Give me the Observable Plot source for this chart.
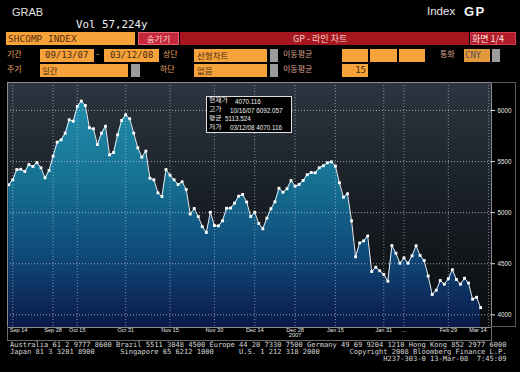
<!DOCTYPE html>
<html><head><meta charset="utf-8">
<script src="https://cdn.jsdelivr.net/npm/d3@7"></script>
<script src="https://cdn.jsdelivr.net/npm/@observablehq/plot@0.6"></script>
<style>
body{margin:0;background:#000;}
#wrap{position:relative;width:520px;height:372px;background:#000;overflow:hidden;font-family:"Liberation Sans",Arial,sans-serif;}
#wrap svg{position:absolute;left:0;top:0;}
.a{position:absolute;white-space:pre;line-height:1;z-index:2;}
.kr{font-family:"Noto Sans CJK KR",sans-serif;}
.box{position:absolute;box-sizing:border-box;height:13px;display:flex;align-items:center;white-space:pre;z-index:2;line-height:1;}
.or{background:#f6a33c;color:#4a2a0e;font-family:"DejaVu Sans Mono",monospace;font-size:9px;}
.gr{background:#9c9c9c;}
.lab{color:#eaa55e;font-size:8px;}
.lab2{color:#dca08e;font-size:8px;}
.ib{position:absolute;white-space:pre;line-height:1;}
.ik{font-family:"Noto Sans CJK KR",sans-serif;font-size:6.1px;color:#f4f4f4;transform:scaleX(1.12);transform-origin:0 0;}
.iv{font-size:6.3px;color:#f0f0f0;}
</style></head>
<body>
<div id="wrap">
  <div class="a" style="left:12px;top:7px;font-family:'Liberation Sans Narrow','Liberation Sans',Arial,sans-serif;font-size:11px;color:#e0e0e0;">GRAB</div>
  <div class="a" style="left:76px;top:20px;font-family:'DejaVu Sans Mono',monospace;font-size:10.8px;color:#f2f2f2;">Vol 57,224y</div>
  <div class="a" style="left:427px;top:6px;font-size:11.5px;color:#e8e8e8;">Index</div>
  <div class="a" style="left:464px;top:5px;font-size:13px;font-weight:bold;letter-spacing:1.5px;color:#f4f4f4;">GP</div>

  <div class="box or" style="left:6px;top:32px;width:129px;padding-left:2px;font-size:9.5px;color:#5a2c08;">SHCOMP INDEX</div>
  <div class="box kr" style="left:138px;top:32px;width:41px;background:#c4283a;border:1px solid #e06070;color:#ffd6d6;font-size:8.5px;justify-content:center;">숨기기</div>
  <div class="box" style="left:180px;top:32px;width:289px;background:#a6161f;"></div>
  <div class="a kr" style="left:293px;top:34px;font-size:9px;color:#f6cccc;">GP - 라인 차트</div>
  <div class="box kr" style="left:470px;top:32px;width:46px;background:#b01c28;border:1px solid #d04050;color:#ffe4e4;font-size:9px;padding-left:1px;">화면 1/4</div>

  <div class="a kr lab" style="left:7px;top:50px;">기간</div>
  <div class="box or" style="left:40px;top:49px;width:54px;padding-left:5px;">09/13/07</div>
  <div class="a" style="left:96px;top:50px;font-size:9px;color:#eaa55e;">-</div>
  <div class="box or" style="left:104px;top:49px;width:55px;padding-left:6px;">03/12/08</div>
  <div class="a kr lab" style="left:163px;top:50px;">상단</div>
  <div class="box or kr" style="left:194px;top:49px;width:73px;padding-left:3px;font-family:'Noto Sans CJK KR',sans-serif;font-size:8.5px;">선형차트</div>
  <div class="box gr" style="left:270px;top:49px;width:8px;"></div>
  <div class="a kr lab2" style="left:283px;top:50px;">이동평균</div>
  <div class="box or" style="left:342px;top:49px;width:26px;"></div>
  <div class="box or" style="left:370px;top:49px;width:27px;"></div>
  <div class="box or" style="left:399px;top:49px;width:26px;"></div>
  <div class="a kr lab2" style="left:440px;top:50px;">통화</div>
  <div class="box or" style="left:464px;top:49px;width:26px;padding-left:1px;background:#e39a3e;color:#5c5248;">CNY</div>
  <div class="box gr" style="left:492px;top:49px;width:8px;"></div>

  <div class="a kr lab" style="left:7px;top:65px;">주기</div>
  <div class="box or kr" style="left:40px;top:64px;width:88px;padding-left:2px;font-family:'Noto Sans CJK KR',sans-serif;font-size:8.5px;">일간</div>
  <div class="box gr" style="left:131px;top:64px;width:9px;"></div>
  <div class="a kr lab" style="left:160px;top:65px;">하단</div>
  <div class="box or kr" style="left:194px;top:64px;width:73px;padding-left:3px;font-family:'Noto Sans CJK KR',sans-serif;font-size:8.5px;">없음</div>
  <div class="box gr" style="left:270px;top:64px;width:8px;"></div>
  <div class="a kr lab2" style="left:283px;top:65px;">이동평균</div>
  <div class="box or" style="left:342px;top:64px;width:26px;justify-content:flex-end;padding-right:2px;">15</div>

  <div style="position:absolute;left:206px;top:96px;width:86px;height:37px;box-sizing:border-box;border:1px solid #e0e0e0;background:#000;z-index:3;">
    <div class="ib ik" style="left:1.5px;top:0px;">현재가</div>
    <div class="ib iv" style="left:28px;top:1.5px;">4070.116</div>
    <div class="ib ik" style="left:1.5px;top:9px;">고가</div>
    <div class="ib iv" style="left:23px;top:10.5px;">10/16/07 6092.057</div>
    <div class="ib ik" style="left:1.5px;top:18px;">평균</div>
    <div class="ib iv" style="left:18px;top:19.2px;">5113.524</div>
    <div class="ib ik" style="left:1.5px;top:26.6px;">저가</div>
    <div class="ib iv" style="left:23px;top:27.6px;">03/12/08 4070.116</div>
  </div>

  <div style="position:absolute;left:7px;top:326px;width:485px;height:15px;box-sizing:border-box;border:1px solid #6a6a6a;border-top:none;z-index:1;"></div>
  <div style="position:absolute;left:491px;top:82px;width:25px;height:245px;box-sizing:border-box;border:1px solid #5a5a5a;border-left:none;z-index:1;"></div>

  <div class="a" style="left:10px;top:340.8px;font-family:'DejaVu Sans Mono',monospace;font-size:7.05px;line-height:7.1px;color:#d8d8d8;">Australia 61 2 9777 8600 Brazil 5511 3048 4500 Europe 44 20 7330 7500 Germany 49 69 9204 1210 Hong Kong 852 2977 6000
Japan 81 3 3201 8900      Singapore 65 6212 1000      U.S. 1 212 318 2000       Copyright 2008 Bloomberg Finance L.P.
                                                                                        H237-303-0 13-Mar-08  7:45:09</div>
</div>
<script>
const values = [5273,5322,5422,5425,5403,5471,5452,5491,5439,5341,
5413,5553,5690,5713,5778,5909,5895,6039,6092,6049,
5831,5821,5667,5778,5846,5566,5589,5762,5902,5958,
5919,5778,5635,5543,5602,5337,5322,5194,5158,5422,
5367,5322,5276,5302,5227,4987,5041,4962,4863,4806,
5004,4874,4871,4920,5043,5045,5093,5161,5178,5104,
4962,5004,4894,4842,4946,5038,5106,5239,5200,5234,
5315,5259,5276,5315,5371,5393,5390,5439,5459,5488,
5498,5455,5292,5151,5185,4920,4568,4703,4724,4772,
4424,4466,4431,4395,4329,4678,4603,4505,4558,4505,
4578,4676,4581,4532,4380,4199,4241,4336,4300,4353,
4441,4346,4300,4358,4311,4153,4172,4070];
const xTickIndex = [1,11,17,29,40,51,61,71,81,93,98,109,119];
const xTickLabels = ["Sep 14","Sep 28","Oct 15","Oct 31","Nov 15","Nov 30","Dec 14","Dec 28","Jan 15","Jan 31","...","Feb 29","Mar 14"];
const yearIndex = [71];
const yearLabels = ["2007"];
const yTicks = [4000,4500,5000,5500,6000];
const xDomain = [-0.3, 119.7];
const yDomain = [3876, 6274];

const data = values.map((v,i)=>({i, v}));
const ticks = xTickIndex.map((i,k)=>({i, label: xTickLabels[k], k}));
const nT = ticks.length;
const years = yearIndex.map((i,k)=>({i, label: yearLabels[k]}));
const tickFont = {fontSize: 5.6, fill: "#e4e4e4", frameAnchor: "bottom", dy: 4.5};

const chart = Plot.plot({
  width: 520, height: 372,
  marginLeft: 7, marginRight: 29, marginTop: 82, marginBottom: 45,
  style: {background: "transparent", color: "#ddd", fontFamily: "'Liberation Sans', Arial, sans-serif"},
  x: {domain: xDomain, axis: null},
  y: {domain: yDomain, axis: null},
  marks: [
    Plot.frame({fill: "url(#bgGrad)"}),
    Plot.areaY(data, {x: "i", y1: yDomain[0], y2: "v", fill: "url(#areaGrad)"}),
    Plot.ruleY(yTicks, {stroke: "#c8d2da", strokeOpacity: 0.75, strokeDasharray: "1,2"}),
    Plot.ruleX(xTickIndex, {stroke: "#c8d2da", strokeOpacity: 0.6, strokeDasharray: "1,2"}),
    Plot.line(data, {x: "i", y: "v", stroke: "#e6eef3", strokeWidth: 1}),
    Plot.dot(data, {x: "i", y: "v", symbol: "square", r: 1.6, fill: "#ffffff"}),
    Plot.frame({stroke: "#8c8c8c"}),
    Plot.ruleY(yTicks, {x1: xDomain[1], x2: xDomain[1] + 1, stroke: "#dddddd"}),
    Plot.text(yTicks, {x: xDomain[1], y: d => d, text: d => String(d), dx: 6, textAnchor: "start", fontSize: 6.3, fill: "#e8e8e8"}),
    Plot.text(ticks.filter(t => t.k > 0 && t.k < nT - 1), {x: "i", text: "label", ...tickFont}),
    Plot.text(ticks.filter(t => t.k === 0), {x: "i", text: "label", textAnchor: "start", dx: -3, ...tickFont}),
    Plot.text(ticks.filter(t => t.k === nT - 1), {x: "i", text: "label", textAnchor: "end", dx: -2, ...tickFont}),
    Plot.text(years, {x: "i", text: "label", ...tickFont, dy: 9.5})
  ]
});

const [yb, yt] = chart.scale("y").range;
const ns = "http://www.w3.org/2000/svg";
const defs = document.createElementNS(ns, "defs");
defs.innerHTML = `
<linearGradient id="bgGrad" gradientUnits="userSpaceOnUse" x1="0" y1="${yt}" x2="0" y2="${yb}">
  <stop offset="0" stop-color="#2c3540"/>
  <stop offset="0.45" stop-color="#1a2027"/>
  <stop offset="1" stop-color="#0a0c0f"/>
</linearGradient>
<linearGradient id="areaGrad" gradientUnits="userSpaceOnUse" x1="0" y1="${yt}" x2="0" y2="${yb}">
  <stop offset="0" stop-color="#2594b4"/>
  <stop offset="0.4" stop-color="#167191"/>
  <stop offset="0.7" stop-color="#0f4a7a"/>
  <stop offset="1" stop-color="#0a1a4a"/>
</linearGradient>`;
chart.insertBefore(defs, chart.firstChild);
document.getElementById("wrap").appendChild(chart);
</script>
</body></html>
